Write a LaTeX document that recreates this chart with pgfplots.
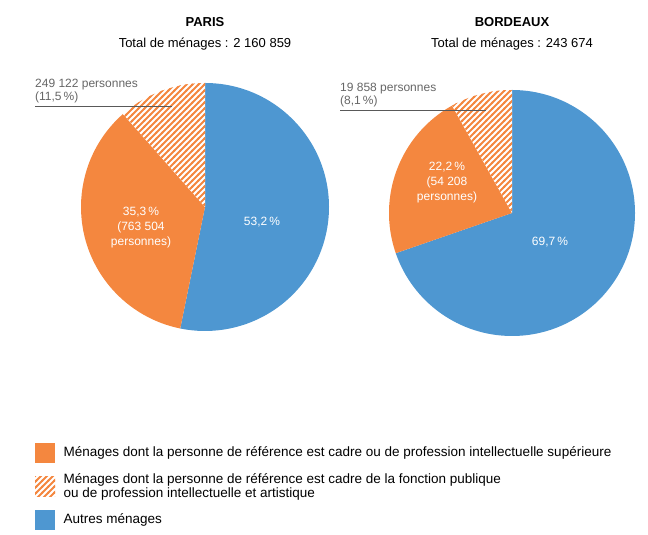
\documentclass[border=0pt]{standalone}
\usepackage{pgfplots}
\pgfplotsset{compat=1.18}
\usepackage{fontspec}
\setmainfont{Liberation Sans}
\usetikzlibrary{patterns}
\definecolor{orng}{HTML}{F4873F}
\definecolor{blu}{HTML}{4E97D1}
\pgfdeclarepatternformonly{thickstripes}{\pgfqpoint{-1pt}{-1pt}}{\pgfqpoint{7pt}{7pt}}{\pgfqpoint{6pt}{6pt}}{%
  \pgfsetlinewidth{2pt}
  \pgfpathmoveto{\pgfqpoint{-1pt}{-1pt}}\pgfpathlineto{\pgfqpoint{7pt}{7pt}}
  \pgfusepath{stroke}}
% shares: cadre (orange), dont fonction publique (hatched), autres (blue)
\def\Pa{35.3}\def\Ph{11.5}\def\Pb{53.2}
\def\Ba{22.2}\def\Bh{8.1}\def\Bb{69.7}
\pgfmathsetmacro{\PH}{90+\Ph*3.6}\pgfmathsetmacro{\PO}{\PH+\Pa*3.6}
\pgfmathsetmacro{\BH}{90+\Bh*3.6}\pgfmathsetmacro{\BO}{\BH+\Ba*3.6}
\newcommand{\pie}[5]{% cx cy r hatchedEnd orangeEnd
  \fill[blu] (axis cs:#1,#2) -- ++(90:#3pt) arc[start angle=90,end angle=#5-360,radius=#3pt] -- cycle;
  \fill[orng] (axis cs:#1,#2) -- ++(#4:#3pt) arc[start angle=#4,end angle=#5,radius=#3pt] -- cycle;
  \fill[white] (axis cs:#1,#2) -- ++(90:#3pt) arc[start angle=90,end angle=#4,radius=#3pt] -- cycle;
  \fill[pattern=thickstripes,pattern color=orng] (axis cs:#1,#2) -- ++(90:#3pt) arc[start angle=90,end angle=#4,radius=#3pt] -- cycle;
}
\begin{document}
\begin{tikzpicture}
\begin{axis}[x=1pt,y=1pt,xmin=0,xmax=648,ymin=0,ymax=535,hide axis,clip=false]
\addplot[draw=none] coordinates {(0,0) (648,535)};
\pie{205}{328}{124}{\PH}{\PO}
\pie{512}{322}{123}{\BH}{\BO}
% titles
\node[font=\bfseries\fontsize{13}{15}\selectfont] at (axis cs:205,513) {PARIS};
\node[font=\fontsize{13}{15}\selectfont] at (axis cs:205,491) {Total de ménages : 2 160 859};
\node[font=\bfseries\fontsize{13}{15}\selectfont] at (axis cs:512,513) {BORDEAUX};
\node[font=\fontsize{13}{15}\selectfont] at (axis cs:512,491) {Total de ménages : 243 674};
% leader labels
\node[anchor=south west,align=left,text=gray!80!black,font=\fontsize{12}{13}\selectfont,inner sep=0pt] at (axis cs:35,432) {249 122 personnes\\(11,5\,\%)};
\draw[gray!70!black] (axis cs:35,429) -- (axis cs:172,429);
\node[anchor=south west,align=left,text=gray!80!black,font=\fontsize{12}{13}\selectfont,inner sep=0pt] at (axis cs:340,428) {19 858 personnes\\(8,1\,\%)};
\draw[gray!70!black] (axis cs:340,425) -- (axis cs:486,425);
% inside labels
\node[text=white,align=center,font=\fontsize{12}{15}\selectfont] at (axis cs:141,307) {35,3\,\%\\(763 504\\personnes)};
\node[text=white,font=\fontsize{12}{14}\selectfont] at (axis cs:262,313) {53,2\,\%};
\node[text=white,align=center,font=\fontsize{12}{15}\selectfont] at (axis cs:447,352) {22,2\,\%\\(54 208\\personnes)};
\node[text=white,font=\fontsize{12}{14}\selectfont] at (axis cs:550,293) {69,7\,\%};
% legend
\fill[orng] (axis cs:35,72) rectangle (axis cs:55,92);
\fill[white] (axis cs:35,38) rectangle (axis cs:55,58);
\fill[pattern=thickstripes,pattern color=orng] (axis cs:35,38) rectangle (axis cs:55,58);
\fill[blu] (axis cs:35,5) rectangle (axis cs:55,25);
\node[anchor=west,font=\fontsize{13.5}{14}\selectfont] at (axis cs:60,82) {Ménages dont la personne de référence est cadre ou de profession intellectuelle supérieure};
\node[anchor=west,align=left,font=\fontsize{13.5}{14}\selectfont] at (axis cs:60,48) {Ménages dont la personne de référence est cadre de la fonction publique\\ou de profession intellectuelle et artistique};
\node[anchor=west,font=\fontsize{13.5}{14}\selectfont] at (axis cs:60,15) {Autres ménages};
\end{axis}
\end{tikzpicture}
\end{document}
